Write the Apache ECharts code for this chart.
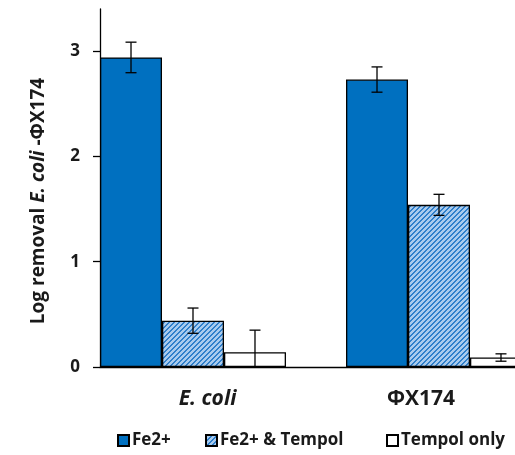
<!DOCTYPE html>
<html>
<head>
<meta charset="utf-8">
<script src="https://cdn.jsdelivr.net/npm/echarts@6/dist/echarts.min.js"></script>
<style>
  html, body { margin: 0; padding: 0; background: #fff; }
  #chart { width: 515px; height: 455px; }
</style>
</head>
<body>
<div id="chart"></div>
<script>
// Organisms tested
const categories = ['E. coli', 'ΦX174'];
const seriesNames = ['Fe2+', 'Fe2+ & Tempol', 'Tempol only'];

// Mean log removal per organism
const fe2Values = [2.94, 2.73];
const fe2TempolValues = [0.44, 1.54];
const tempolValues = [0.14, 0.09];

// Error bar half-widths
const fe2Errors = [0.145, 0.12];
const fe2TempolErrors = [0.12, 0.10];
const tempolErrors = [0.21, 0.035];

// Y-axis ticks
const yTicks = [0, 1, 2, 3];

const CAT_GAP = 0.244;
const FONT = '"Open Sans", "Noto Sans", sans-serif';
const TEXT = '#1a1a1a';

// Diagonal hatch fill for the Fe2+ & Tempol bars
function hatchPattern() {
  const n = 5;
  const c = document.createElement('canvas');
  c.width = n; c.height = n;
  const ctx = c.getContext('2d');
  ctx.fillStyle = '#a9cbee';
  ctx.fillRect(0, 0, n, n);
  ctx.fillStyle = '#2f7fcb';
  for (let x = 0; x < n; x++) {
    for (let y = 0; y < n; y++) {
      const m = (x + y) % n;
      if (m === 0 || m === 1) ctx.fillRect(x, y, 1, 1);
    }
  }
  return { image: c, repeat: 'repeat' };
}

const valueSets = [fe2Values, fe2TempolValues, tempolValues];
const errorSets = [fe2Errors, fe2TempolErrors, tempolErrors];
const fills = ['#0070c0', hatchPattern(), '#ffffff'];

const barSeries = seriesNames.map((name, k) => ({
  name: name,
  type: 'bar',
  xAxisIndex: 0,
  yAxisIndex: 0,
  barGap: '0%',
  barCategoryGap: (CAT_GAP * 100) + '%',
  data: valueSets[k],
  itemStyle: { color: fills[k], borderColor: '#000', borderWidth: 1.3 },
  emphasis: { disabled: true },
  z: 2
}));

const errorSeries = seriesNames.map((name, k) => ({
  type: 'custom',
  xAxisIndex: 0,
  yAxisIndex: 0,
  data: categories.map((c, i) => [i, valueSets[k][i], errorSets[k][i]]),
  encode: { x: 0, y: 1 },
  z: 5,
  silent: true,
  renderItem: function (params, api) {
    const i = api.value(0), v = api.value(1), e = api.value(2);
    const band = api.size([1, 0])[0];
    const bw = band * (1 - CAT_GAP) / 3;
    const center = api.coord([i, v]);
    const x = center[0] + (k - 1) * bw;
    const lo = Math.max(0, v - e);
    const yHi = api.coord([i, v + e])[1];
    const yLo = api.coord([i, lo])[1];
    const cap = 5.5;
    const style = { stroke: '#000', lineWidth: 1.3 };
    const children = [
      { type: 'line', shape: { x1: x, y1: yHi, x2: x, y2: yLo }, style: style },
      { type: 'line', shape: { x1: x - cap, y1: yHi, x2: x + cap, y2: yHi }, style: style }
    ];
    if (v - e >= 0) {
      children.push({ type: 'line', shape: { x1: x - cap, y1: yLo, x2: x + cap, y2: yLo }, style: style });
    }
    return { type: 'group', children: children };
  }
}));

// One legend block per series so each entry sits at its own spot
const legendLefts = [117, 205, 386];
const legends = seriesNames.map((name, k) => ({
  data: [name],
  left: legendLefts[k],
  top: 432,
  padding: 0,
  itemWidth: 11,
  itemHeight: 11,
  icon: 'rect',
  selectedMode: false,
  textStyle: { fontFamily: FONT, fontWeight: 'bold', fontSize: 17, color: TEXT, padding: [0, 0, 0, -2] }
}));

const chart = echarts.init(document.getElementById('chart'), null, { renderer: 'canvas' });
chart.setOption({
  animation: false,
  backgroundColor: '#fff',
  grid: [
    { left: 70, top: 9, width: 492, height: 358, outerBoundsMode: 'none', containLabel: false },
    { left: 100, top: 9, width: 462, height: 358, outerBoundsMode: 'none', containLabel: false }
  ],
  legend: legends,
  xAxis: [
    {
      type: 'category',
      gridIndex: 0,
      data: categories,
      axisLine: { show: false },
      axisTick: { show: false },
      axisLabel: {
        margin: 22,
        formatter: function (val, idx) {
          return idx === 0 ? '{ec|' + val + '}' : '{phi|' + val + '}';
        },
        rich: {
          ec: { fontFamily: FONT, fontSize: 21, fontWeight: 'bold', fontStyle: 'italic', color: TEXT, padding: [0, 0, 0, 29] },
          phi: { fontFamily: FONT, fontSize: 21, fontWeight: 'bold', color: TEXT, padding: [0, 36, 0, 0] }
        }
      }
    },
    {
      type: 'value',
      gridIndex: 1,
      min: 0,
      max: 1,
      axisLine: { show: true, onZero: false, lineStyle: { color: '#000', width: 1.3 } },
      axisTick: { show: false },
      axisLabel: { show: false },
      splitLine: { show: false }
    }
  ],
  yAxis: [
    {
      type: 'value',
      gridIndex: 0,
      min: 0,
      max: 3.4,
      interval: 1,
      offset: -30,
      name: '{n|Log removal }{i|E. coli}{t| -ΦX174}',
      nameLocation: 'middle',
      nameRotate: 90,
      nameGap: 52,
      nameTextStyle: {
        rich: {
          n: { fontFamily: FONT, fontSize: 19, fontWeight: 'bold', color: TEXT },
          i: { fontFamily: FONT, fontSize: 19, fontWeight: 'bold', fontStyle: 'italic', color: TEXT },
          t: { fontFamily: FONT, fontSize: 19, fontWeight: 'bold', color: TEXT, padding: [0, 26, 0, 0] }
        }
      },
      axisLine: { show: true, lineStyle: { color: '#000', width: 1.3 } },
      axisTick: { show: true, length: 7, customValues: yTicks, lineStyle: { color: '#000', width: 1.3 } },
      axisLabel: {
        customValues: yTicks,
        margin: 20,
        fontFamily: FONT,
        fontSize: 17,
        fontWeight: 'bold',
        color: TEXT
      },
      splitLine: { show: false }
    },
    {
      type: 'value',
      gridIndex: 1,
      show: false,
      min: 0,
      max: 1
    }
  ],
  series: barSeries.concat(errorSeries)
});
</script>
</body>
</html>
